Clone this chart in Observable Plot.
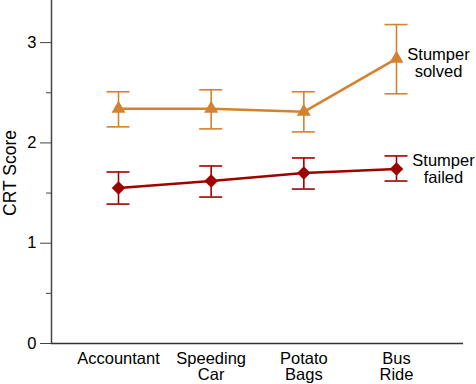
<!DOCTYPE html>
<html><head><meta charset="utf-8">
<script src="https://cdn.jsdelivr.net/npm/d3@7"></script>
<script src="https://cdn.jsdelivr.net/npm/@observablehq/plot@0.6"></script>
<style>body{margin:0;background:#fff;font-family:"Liberation Sans",Arial,sans-serif}</style>
</head><body><div id="chart"></div>
<script>
const categories = ["Accountant", "Speeding\nCar", "Potato\nBags", "Bus\nRide"];
const solvedMean = [2.34, 2.34, 2.31, 2.84];
const solvedLow  = [2.16, 2.14, 2.11, 2.49];
const solvedHigh = [2.51, 2.53, 2.51, 3.18];
const failedMean = [1.55, 1.62, 1.70, 1.74];
const failedLow  = [1.39, 1.46, 1.54, 1.62];
const failedHigh = [1.71, 1.77, 1.85, 1.87];
const seriesLabels = ["Stumper\nsolved", "Stumper\nfailed"];

const ORANGE = "#d3822f", RED = "#a00000";
const xMin = -0.723, xMax = 3.723, yMax = 3.42;
const cap = 0.124;
const FS = 16.5;

const solved = categories.map((c, i) => ({i, m: solvedMean[i], lo: solvedLow[i], hi: solvedHigh[i]}));
const failed = categories.map((c, i) => ({i, m: failedMean[i], lo: failedLow[i], hi: failedHigh[i]}));

function errMarks(data, color) {
  return [
    Plot.ruleX(data, {x: "i", y1: "lo", y2: "hi", stroke: color, strokeWidth: 1.6}),
    Plot.ruleY(data, {y: "lo", x1: d => d.i - cap, x2: d => d.i + cap, stroke: color, strokeWidth: 1.6}),
    Plot.ruleY(data, {y: "hi", x1: d => d.i - cap, x2: d => d.i + cap, stroke: color, strokeWidth: 1.6})
  ];
}

const chart = Plot.plot({
  width: 476, height: 384,
  marginLeft: 51, marginRight: 13, marginTop: 0, marginBottom: 41,
  style: {fontFamily: "'Liberation Sans', Arial, sans-serif", fontSize: FS + "px", color: "#000", background: "#fff"},
  x: {domain: [xMin, xMax], axis: null},
  y: {domain: [0, yMax], axis: null},
  marks: [
    Plot.axisY({ticks: [0, 1, 2, 3], tickSize: 11, tickPadding: 4, tickFormat: d => String(d), label: null, stroke: "#444", fontSize: FS}),
    Plot.axisY({ticks: [0.5, 1.5, 2.5], tickSize: 5, tickFormat: () => "", label: null, stroke: "#444"}),
    Plot.axisX({ticks: [0, 1, 2, 3], tickSize: 0, tickPadding: 10, tickFormat: d => categories[d], label: null, fontSize: FS, lineHeight: 0.93}),
    Plot.ruleX([xMin], {stroke: "#444", strokeWidth: 1.5}),
    Plot.ruleY([0], {stroke: "#333", strokeWidth: 1.5}),
    Plot.text(["CRT Score"], {x: xMin, y: 1.7, dx: -41.5, rotate: -90, fontSize: 17.5, fill: "#000"}),
    ...errMarks(solved, ORANGE),
    ...errMarks(failed, RED),
    Plot.line(solved, {x: "i", y: "m", stroke: ORANGE, strokeWidth: 2.6}),
    Plot.line(failed, {x: "i", y: "m", stroke: RED, strokeWidth: 2.6}),
    Plot.dot(solved, {x: "i", y: "m", symbol: "triangle", r: 5.2, fill: ORANGE, stroke: null}),
    Plot.dot(failed, {x: "i", y: "m", symbol: "diamond2", r: 6.1, fill: RED, stroke: null}),
    Plot.text([seriesLabels[0]], {x: 3, y: 2.8, dx: 42, fontSize: FS, fill: "#000", lineHeight: 1.03}),
    Plot.text([seriesLabels[1]], {x: 3, y: 1.74, dx: 47, fontSize: FS, fill: "#000", lineHeight: 1.03})
  ]
});
document.getElementById("chart").appendChild(chart);
</script></body></html>
